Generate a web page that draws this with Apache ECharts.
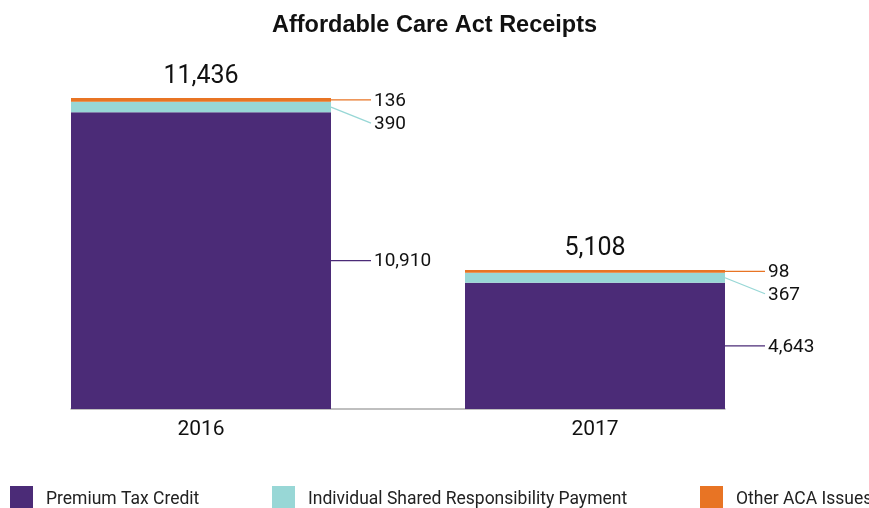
<!DOCTYPE html>
<html><head><meta charset="utf-8">
<script src="https://cdn.jsdelivr.net/npm/echarts@6/dist/echarts.min.js"></script>
<style>html,body{margin:0;padding:0;background:#fff}#c{width:869px;height:508px}</style>
</head><body><div id="c"></div>
<script>
const years = [2016, 2017];
const premiumTaxCredit = [10910, 4643];
const sharedResponsibility = [390, 367];
const otherIssues = [136, 98];
const totals = [11436, 5108];
const seriesNames = ['Premium Tax Credit', 'Individual Shared Responsibility Payment', 'Other ACA Issues'];
const colors = ['#4B2B77', '#98D7D6', '#E87424'];

const stackOrder = [premiumTaxCredit, sharedResponsibility, otherIssues];
const font = 'Roboto';
const fmt = v => v.toLocaleString('en-US');
const BAR_W = 260;
const LABEL_DY = [0, 16, 0];

function segSeries(k) {
  const data = stackOrder[k];
  return {
    name: seriesNames[k], type: 'custom', itemStyle: {color: colors[k]},
    data: data.map((v, i) => [years[i], v]),
    encode: {x: 0, y: 1},
    renderItem: (params, api) => {
      const i = params.dataIndex;
      const year = api.value(0), v = api.value(1);
      let base = 0;
      for (let j = 0; j < k; j++) base += stackOrder[j][i];
      const p0 = api.coord([year, base]);
      const p1 = api.coord([year, base + v]);
      const left = p0[0] - BAR_W / 2, right = p0[0] + BAR_W / 2;
      const mid = (p0[1] + p1[1]) / 2;
      const ly = mid + LABEL_DY[k];
      return {
        type: 'group', children: [
          {type: 'rect', shape: {x: left, y: p1[1], width: BAR_W, height: p0[1] - p1[1]},
            style: {fill: api.visual('color')}},
          {type: 'line', shape: {x1: right, y1: mid, x2: right + 40, y2: ly},
            style: {stroke: api.visual('color'), lineWidth: 1.3}},
          {type: 'text', x: right + 43, y: ly + 1,
            style: {text: fmt(v), fill: '#111', font: '19px ' + font, textAlign: 'left', textVerticalAlign: 'middle'}}
        ]
      };
    }
  };
}

const chart = echarts.init(document.getElementById('c'), null, {renderer: 'canvas'});
chart.setOption({
  animation: false,
  color: colors,
  title: {text: 'Affordable Care Act Receipts', left: 'center', top: 9,
    textStyle: {fontFamily: 'Liberation Sans', fontWeight: 'bold', fontSize: 23.5, color: '#111'}},
  grid: {left: 71, right: 144, top: 82.7, bottom: 99},
  xAxis: {type: 'value', min: 2016 - 130/394, max: 2017 + 130/394,
    splitLine: {show: false},
    axisLine: {show: true, lineStyle: {color: '#aaa', width: 1.5}},
    axisTick: {show: false},
    axisLabel: {customValues: years, color: '#111', fontSize: 21, fontFamily: font, margin: 10, formatter: v => String(v)}},
  yAxis: {type: 'value', min: 0, max: 12000, show: false, splitLine: {show: false}},
  legend: [0, 1, 2].map(i => ({
    data: [seriesNames[i]], left: [5, 267, 695][i], top: 481, itemWidth: 23, itemHeight: 22,
    icon: 'rect', selectedMode: false,
    formatter: n => '{t|' + n + '}',
    textStyle: {fontFamily: font, fontSize: 17.5, color: '#222',
      rich: {t: {fontFamily: font, fontSize: 17.5, color: '#222', padding: [5, 0, 0, 8]}}}
  })),
  series: [
    segSeries(0), segSeries(1), segSeries(2),
    {
      name: 'total', type: 'custom', silent: true,
      data: totals.map((v, i) => [years[i], v]),
      encode: {x: 0, y: 1},
      renderItem: (params, api) => {
        const p = api.coord([api.value(0), api.value(1)]);
        return {type: 'text', x: p[0], y: p[1] - 21,
          style: {text: fmt(api.value(1)), fill: '#111', font: '25px ' + font, textAlign: 'center', textVerticalAlign: 'middle'}};
      }
    }
  ]
});
</script></body></html>
